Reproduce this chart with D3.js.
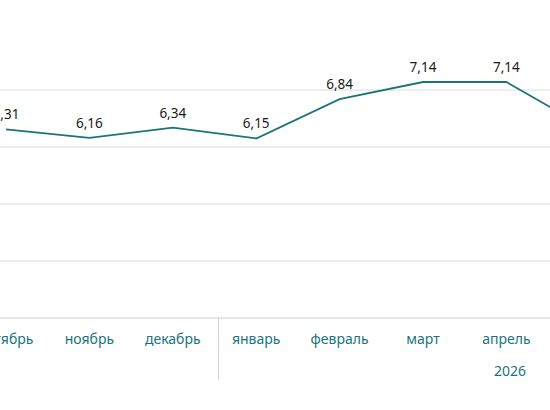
<!DOCTYPE html>
<html><head><meta charset="utf-8">
<script src="https://cdn.jsdelivr.net/npm/d3@7"></script>
<style>body{margin:0;background:#fff}svg{display:block}</style>
</head><body>
<script>
const months = ["октябрь","ноябрь","декабрь","январь","февраль","март","апрель","май"];
const values = [6.31, 6.16, 6.34, 6.15, 6.84, 7.14, 7.14, 6.30];
const yTicks = [3,4,5,6,7];
const yearLabel = "2026";

const W=550,H=410;
const svg=d3.select("body").append("svg").attr("width",W).attr("height",H);
const x=d3.scaleLinear().domain([0,1]).range([6,89.4]);
const y=d3.scaleLinear().domain([3,7]).range([318,90]);
const font="'Noto Sans', 'Open Sans', sans-serif";

svg.selectAll("line.g").data(yTicks).join("line")
 .attr("x1",0).attr("x2",W).attr("y1",d=>y(d)).attr("y2",d=>y(d))
 .attr("stroke",d=>d===3?"#cfcfcf":"#dcdcdc").attr("stroke-width",1);

svg.append("line").attr("x1",218.5).attr("x2",218.5).attr("y1",y(3)).attr("y2",380)
 .attr("stroke","#d3d3d3");

svg.append("path").datum(values)
 .attr("d",d3.line().x((d,i)=>x(i)).y(d=>y(d)))
 .attr("fill","none").attr("stroke","#1b737c").attr("stroke-width",1.8);

svg.selectAll("text.v").data(values).join("text")
 .attr("x",(d,i)=>x(i)).attr("y",d=>y(d)-10).attr("text-anchor","middle")
 .attr("font-family",font).attr("font-size",13.5).attr("fill","#1a1a1a")
 .text(d=>d.toFixed(2).replace(".",","));

svg.selectAll("text.m").data(months).join("text")
 .attr("x",(d,i)=>x(i)).attr("y",344).attr("text-anchor","middle")
 .attr("font-family",font).attr("font-size",14).attr("fill","#1b737c")
 .text(d=>d);

svg.append("text").attr("x",510).attr("y",376).attr("text-anchor","middle")
 .attr("font-family",font).attr("font-size",14).attr("fill","#1b737c").text(yearLabel);
</script>
</body></html>
